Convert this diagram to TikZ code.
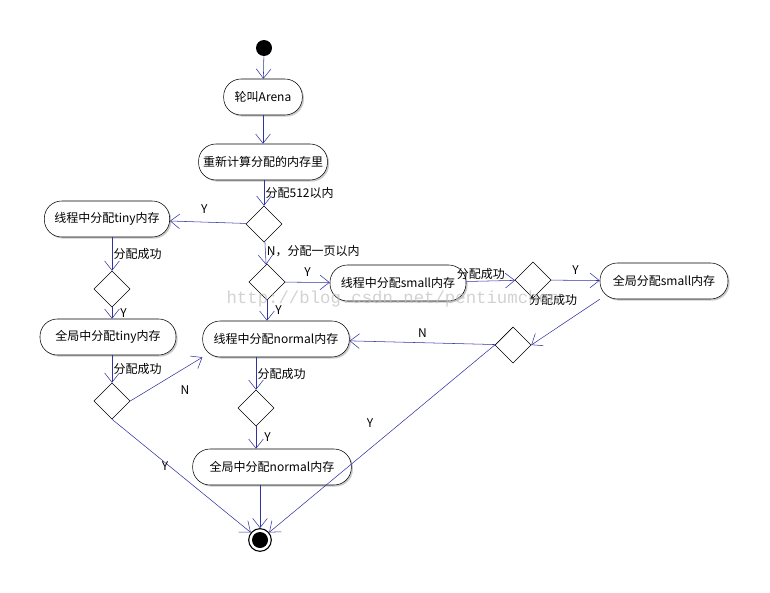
\documentclass[tikz,border=0pt]{standalone}
\usepackage{fontspec}
\setmainfont{Noto Sans CJK SC}
\newfontfamily\wmfont{Liberation Mono}
\usetikzlibrary{shapes.geometric,arrows.meta,shadows}
\definecolor{edge}{RGB}{50,50,160}
\begin{document}
\begin{tikzpicture}[x=0.75pt,y=-0.75pt,
  act/.style={draw,rounded corners=13pt,minimum height=27pt,font=\fontsize{9}{10}\selectfont,fill=white,
    drop shadow={shadow xshift=1.2pt,shadow yshift=-1.2pt,fill=black!35,opacity=0.6}},
  dec/.style={draw,diamond,minimum width=27pt,minimum height=27pt,inner sep=0pt,fill=white},
  lab/.style={font=\fontsize{9}{10}\selectfont,inner sep=1pt},
  e/.style={draw=edge,-{Straight Barb[length=7pt,width=11pt]}}]
\useasboundingbox (0,0) rectangle (770,592);
\node[circle,fill=black,minimum size=12pt,inner sep=0pt] (s) at (264,48) {};
\node[act,minimum width=59pt] (A) at (263,97) {轮叫Arena};
\node[act,minimum width=88pt] (B) at (263,162) {重新计算分配的内存里};
\node[dec] (d1) at (264,224) {};
\node[act,minimum width=94pt] (t1) at (107,219) {线程中分配tiny内存};
\node[dec] (d2) at (112,289) {};
\node[act,minimum width=102pt] (t2) at (108,337) {全局中分配tiny内存};
\node[dec] (d3) at (112,401) {};
\node[dec] (d4) at (267,282) {};
\node[act,minimum width=102pt] (s1) at (398,283) {线程中分配small内存};
\node[dec] (d5) at (533,280) {};
\node[act,minimum width=96pt] (s2) at (664,281) {全局分配small内存};
\node[dec] (d6) at (513,345) {};
\node[act,minimum width=110pt] (n1) at (276,339) {线程中分配normal内存};
\node[dec] (d7) at (256,408) {};
\node[act,minimum width=119pt] (n2) at (272,467) {全局中分配normal内存};
\node[circle,draw,thick,minimum size=17pt,inner sep=0pt] (f) at (260,540) {};
\node[circle,fill=black,minimum size=12pt,inner sep=0pt] (fi) at (f) {};
\draw[e] (s) -- (A);
\draw[e] (A) -- (B);
\draw[e] (B.south -| d1) -- node[lab,right]{分配512以内} (d1);
\draw[e] (d1) -- node[lab,above,pos=0.55,yshift=5pt]{Y} (t1);
\draw[e] (t1.south -| d2) -- node[lab,right]{分配成功} (d2);
\draw[e] (d2) -- node[lab,right,xshift=5pt]{Y} (t2.north -| d2);
\draw[e] (t2.south -| d3) -- node[lab,right]{分配成功} (d3);
\draw[e] (d3.east) -- (n1.south west);
\node[lab] (ln) at (185,390) {N};
\draw[e] (d3.south) -- (f);
\node[lab] (ly1) at (165,466) {Y};
\draw[e] (d1) -- node[lab,right,pos=0.4]{N，分配一页以内} (d4);
\draw[e] (d4) -- node[lab,above,yshift=3pt]{Y} (s1);
\draw[e] (d4) -- node[lab,right,xshift=5pt]{Y} (n1.north -| d4);
\draw[e] (s1) -- node[lab,above,pos=0.3]{分配成功} (d5);
\draw[e] (d5) -- node[lab,above,yshift=3pt]{Y} (s2);
\node[lab] (lbl) at (553,300) {分配成功};
\draw[e] (s2.south west) -- (d6.east);
\draw[e] (d6) -- node[lab,above,yshift=3pt]{N} (n1);
\draw[e] (d6.west) -- (f);
\node[lab] (ly2) at (370,423) {Y};
\draw[e] (n1.south -| d7) -- node[lab,right]{分配成功} (d7);
\draw[e] (d7) -- node[lab,right,xshift=5pt]{Y} (n2.north -| d7);
\draw[e] (n2.south -| f) -- (f);
\node[text=black!25,opacity=0.7,font=\wmfont\fontsize{13}{14}\selectfont] (wm) at (393,299) {http://blog.csdn.net/pentiumchen};
\end{tikzpicture}
\end{document}
